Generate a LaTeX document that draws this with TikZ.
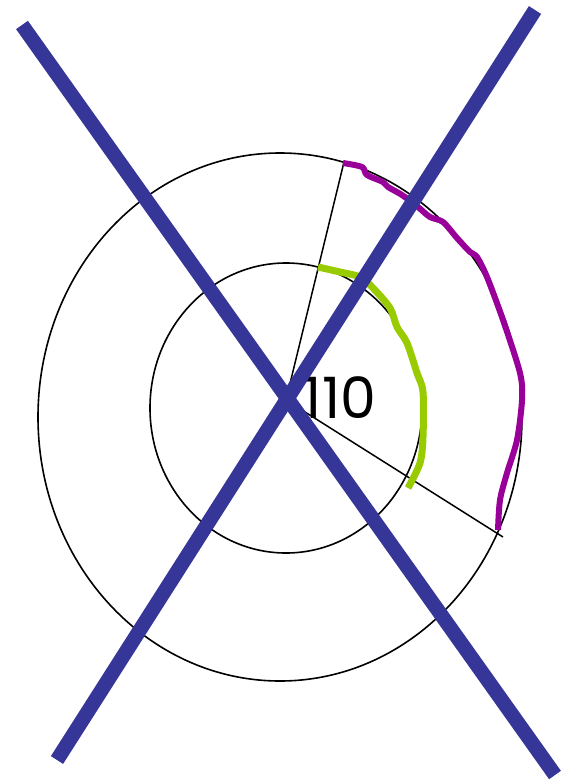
\documentclass[tikz,border=0pt]{standalone}
\usepackage{fontspec}
\newfontfamily\labelfont{Poppins}

\definecolor{crossblue}{RGB}{54,54,153}
\definecolor{arcpurple}{RGB}{153,0,153}
\definecolor{arcgreen}{RGB}{153,204,0}

\tikzset{
    ring/.style={line width=1.6pt},
    spoke/.style={line width=1.5pt},
    crossbar/.style={crossblue, line width=14.5pt},
    outerarc/.style={arcpurple, line width=6pt, line join=round},
    innerarc/.style={arcgreen, line width=7pt, line join=round}
}

\begin{document}
\begin{tikzpicture}[x=1pt, y=-1pt]
    \useasboundingbox (0,0) rectangle (567,782);

    % rings
    \draw[ring] (280,417) ellipse [x radius=242pt, y radius=264pt];
    \draw[ring] (286,408) ellipse [x radius=136pt, y radius=145pt];

    \coordinate (hub) at (286,400);
    \coordinate (topend) at (344,162);
    \coordinate (rightend) at (503,537);
    \draw[spoke] (hub) -- (topend);
    \draw[spoke] (hub) -- (rightend);

    \draw[outerarc] plot[smooth, tension=0.5] coordinates {
        (343,163) (362,167) (367,175) (383,182) (388,187) (402,195)
        (418,207) (430,217) (443,222) (457,238) (470,252) (477,257)
        (487,277) (503,320) (520,373) (522,400) (517,440) (507,473)
        (500,500) (498,530)};

    \draw[innerarc] plot[smooth, tension=0.5] coordinates {
        (318,267) (340,272) (360,277) (373,288) (390,308) (397,327)
        (407,343) (417,373) (423,392) (423,437) (420,463) (408,488)};

    \node[font=\labelfont\fontsize{57}{57}\selectfont, inner sep=0pt] (value) at (340,398) {110};

    \coordinate (nw) at (22,25);
    \coordinate (se) at (555,775);
    \coordinate (ne) at (535,10);
    \coordinate (sw) at (57,760);
    \draw[crossbar] (nw) -- (se);
    \draw[crossbar] (ne) -- (sw);

\end{tikzpicture}
\end{document}
